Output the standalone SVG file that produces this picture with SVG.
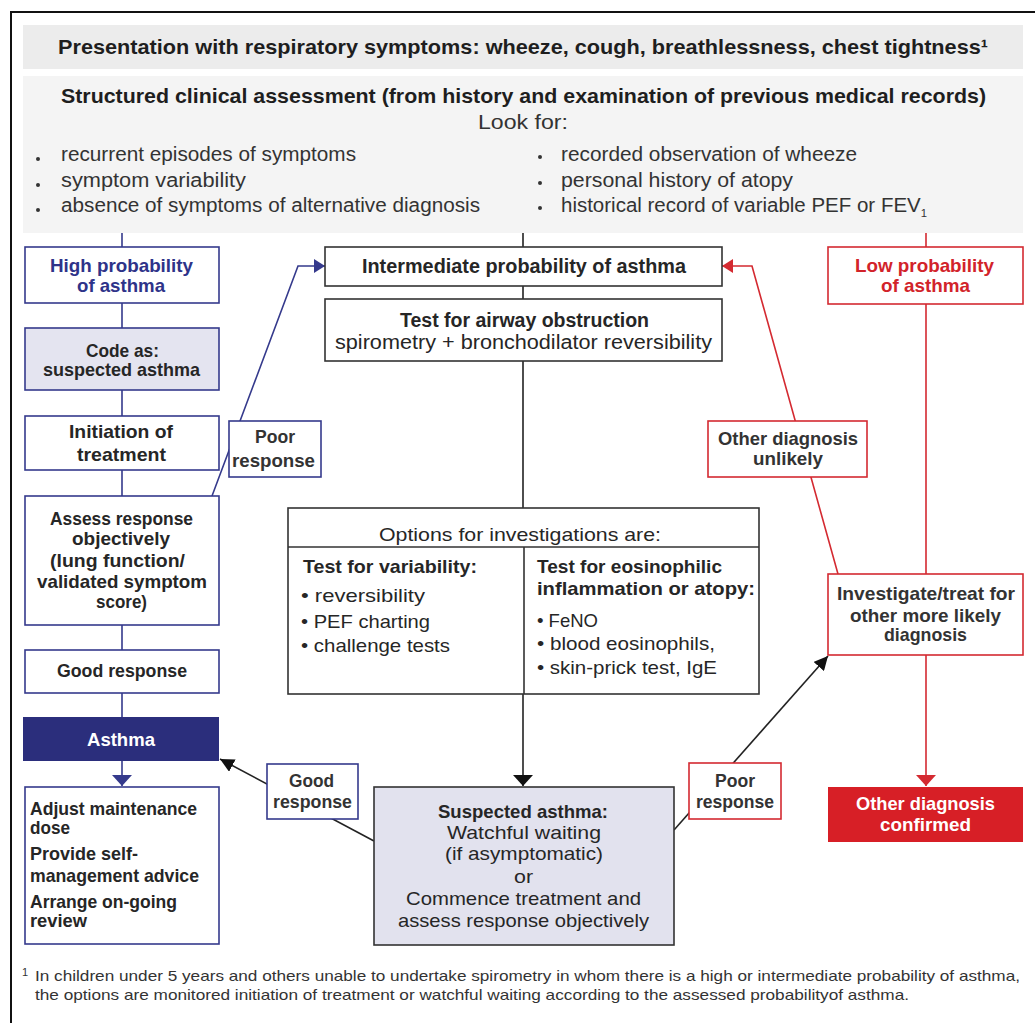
<svg xmlns="http://www.w3.org/2000/svg" width="1035" height="1023" viewBox="0 0 1035 1023">
<style>
text{font-family:"Liberation Sans",Arial,sans-serif;fill:#262626}
.h{font-size:21px;font-weight:bold;fill:#1e1e1e}
.r20{font-size:20px;fill:#333}
.b{font-size:18.5px;font-weight:bold}
.r{font-size:18.5px}
.navyT{fill:#2e3389}
.redT{fill:#d2232a}
.wT{fill:#fff}
.ft{font-size:15px;fill:#333}
.nv{fill:#fff;stroke:#353a8c;stroke-width:1.6}
.rd{fill:#fff;stroke:#d42a31;stroke-width:1.6}
.bk{fill:#fff;stroke:#333;stroke-width:1.6}
.cn{fill:none;stroke-width:1.6}
.cnN{stroke:#353a8c}
.cnR{stroke:#d42a31}
.cnK{stroke:#222}
</style>
<defs>
<marker id="mNv" viewBox="0 0 10 10" refX="10" refY="5" markerUnits="userSpaceOnUse" markerWidth="11" markerHeight="20" preserveAspectRatio="none" orient="auto"><path d="M0,0L10,5L0,10Z" fill="#353a8c"/></marker>
<marker id="mRv" viewBox="0 0 10 10" refX="10" refY="5" markerUnits="userSpaceOnUse" markerWidth="11" markerHeight="20" preserveAspectRatio="none" orient="auto"><path d="M0,0L10,5L0,10Z" fill="#d42a31"/></marker>
<marker id="mKv" viewBox="0 0 10 10" refX="10" refY="5" markerUnits="userSpaceOnUse" markerWidth="11" markerHeight="20" preserveAspectRatio="none" orient="auto"><path d="M0,0L10,5L0,10Z" fill="#111"/></marker>
<marker id="mN" viewBox="0 0 10 10" refX="10" refY="5" markerUnits="userSpaceOnUse" markerWidth="11" markerHeight="14" preserveAspectRatio="none" orient="auto"><path d="M0,0L10,5L0,10Z" fill="#353a8c"/></marker>
<marker id="mR" viewBox="0 0 10 10" refX="10" refY="5" markerUnits="userSpaceOnUse" markerWidth="11" markerHeight="14" preserveAspectRatio="none" orient="auto"><path d="M0,0L10,5L0,10Z" fill="#d42a31"/></marker>
<marker id="mK" viewBox="0 0 10 10" refX="10" refY="5" markerUnits="userSpaceOnUse" markerWidth="14" markerHeight="14" preserveAspectRatio="none" orient="auto"><path d="M0,0L10,5L0,10Z" fill="#111"/></marker>
</defs>
<rect x="0" y="0" width="1035" height="1023" fill="#fff"/>
<path d="M11,1023V12H1035" fill="none" stroke="#111" stroke-width="2"/>

<g id="header1">
<rect x="23" y="25" width="1000" height="44" fill="#ececec"/>
<text class="h" x="58" y="54" textLength="930" lengthAdjust="spacingAndGlyphs">Presentation with respiratory symptoms:  wheeze, cough, breathlessness, chest tightness¹</text>
</g>

<g id="header2">
<rect x="23" y="76" width="1000" height="157" fill="#f4f4f4"/>
<text class="h" x="61" y="103" textLength="925" lengthAdjust="spacingAndGlyphs">Structured clinical assessment (from history and examination of previous medical records)</text>
<text class="r20" style="font-size:21px" x="478" y="129" textLength="90" lengthAdjust="spacingAndGlyphs">Look for:</text>
<circle cx="38" cy="159" r="2" fill="#333"/>
<circle cx="38" cy="185" r="2" fill="#333"/>
<circle cx="38" cy="210" r="2" fill="#333"/>
<text class="r20" x="61" y="161" textLength="295" lengthAdjust="spacingAndGlyphs">recurrent episodes of symptoms</text>
<text class="r20" x="61" y="187" textLength="185" lengthAdjust="spacingAndGlyphs">symptom variability</text>
<text class="r20" x="61" y="212" textLength="419" lengthAdjust="spacingAndGlyphs">absence of symptoms of alternative diagnosis</text>
<circle cx="540" cy="157" r="2" fill="#333"/>
<circle cx="540" cy="183" r="2" fill="#333"/>
<circle cx="540" cy="208" r="2" fill="#333"/>
<text class="r20" x="561" y="161" textLength="296" lengthAdjust="spacingAndGlyphs">recorded observation of wheeze</text>
<text class="r20" x="561" y="187" textLength="232" lengthAdjust="spacingAndGlyphs">personal history of atopy</text>
<text class="r20" x="561" y="212" textLength="366" lengthAdjust="spacingAndGlyphs">historical record of variable PEF or FEV<tspan dy="5" style="font-size:11px">1</tspan></text>
</g>

<g id="connectors">
<path class="cn cnN" d="M122,233V247M122,303V328M122,390V416M122,470V496M122,625V650M122,693V717"/>
<path class="cn cnN" d="M122,761V786" marker-end="url(#mNv)"/>
<path class="cn cnK" d="M523,233V247M523,286V299M523,361V508"/>
<path class="cn cnK" d="M523,694V786" marker-end="url(#mKv)"/>
<path class="cn cnR" d="M926,233V247M926,304V574"/>
<path class="cn cnR" d="M926,655V786" marker-end="url(#mRv)"/>
<path class="cn cnN" d="M212,496L298,266H325" marker-end="url(#mN)"/>
<path class="cn cnR" d="M838,574L752,266H722" marker-end="url(#mR)"/>
<path class="cn cnK" d="M374,841L220,759" marker-end="url(#mK)"/>
<path class="cn cnK" d="M674,830L828,656" marker-end="url(#mK)"/>
</g>

<g id="high">
<rect class="nv" x="25" y="247" width="194" height="56"/>
<text class="b navyT" x="50" y="272" textLength="143" lengthAdjust="spacingAndGlyphs">High probability</text>
<text class="b navyT" x="77" y="292" textLength="88" lengthAdjust="spacingAndGlyphs">of asthma</text>
</g>
<g id="code">
<rect class="nv" style="fill:#e4e4f0" x="25" y="328" width="194" height="62"/>
<text class="b" x="86" y="357" textLength="73" lengthAdjust="spacingAndGlyphs">Code as:</text>
<text class="b" x="43" y="376" textLength="157" lengthAdjust="spacingAndGlyphs">suspected asthma</text>
</g>
<g id="initiation">
<rect class="nv" x="25" y="416" width="194" height="54"/>
<text class="b" x="69" y="438" textLength="104" lengthAdjust="spacingAndGlyphs">Initiation of</text>
<text class="b" x="77" y="461" textLength="89" lengthAdjust="spacingAndGlyphs">treatment</text>
</g>
<g id="assess">
<rect class="nv" x="25" y="496" width="194" height="129"/>
<text class="b" x="50" y="525" textLength="143" lengthAdjust="spacingAndGlyphs">Assess response</text>
<text class="b" x="72" y="545" textLength="98" lengthAdjust="spacingAndGlyphs">objectively</text>
<text class="b" x="50" y="567" textLength="135" lengthAdjust="spacingAndGlyphs">(lung function/</text>
<text class="b" x="37" y="588" textLength="170" lengthAdjust="spacingAndGlyphs">validated symptom</text>
<text class="b" x="96" y="608" textLength="51" lengthAdjust="spacingAndGlyphs">score)</text>
</g>
<g id="goodresp">
<rect class="nv" x="25" y="650" width="194" height="43"/>
<text class="b" x="57" y="677" textLength="130" lengthAdjust="spacingAndGlyphs">Good response</text>
</g>
<g id="asthma">
<rect x="23" y="717" width="196" height="44" fill="#2b2e7c"/>
<text class="b wT" x="87" y="746" textLength="68" lengthAdjust="spacingAndGlyphs">Asthma</text>
</g>
<g id="adjust">
<rect class="nv" x="25" y="787" width="194" height="157"/>
<text class="b" x="30" y="815" textLength="167" lengthAdjust="spacingAndGlyphs">Adjust maintenance</text>
<text class="b" x="30" y="834" textLength="40" lengthAdjust="spacingAndGlyphs">dose</text>
<text class="b" x="30" y="860" textLength="108" lengthAdjust="spacingAndGlyphs">Provide self-</text>
<text class="b" x="30" y="882" textLength="169" lengthAdjust="spacingAndGlyphs">management advice</text>
<text class="b" x="30" y="908" textLength="147" lengthAdjust="spacingAndGlyphs">Arrange on-going</text>
<text class="b" x="30" y="927" textLength="57" lengthAdjust="spacingAndGlyphs">review</text>
</g>
<g id="poorLeft">
<rect class="nv" x="229" y="421" width="92" height="56"/>
<text class="b" style="fill:#333" x="255" y="443" textLength="40" lengthAdjust="spacingAndGlyphs">Poor</text>
<text class="b" style="fill:#333" x="232" y="467" textLength="83" lengthAdjust="spacingAndGlyphs">response</text>
</g>

<g id="intermediate">
<rect class="bk" x="325" y="247" width="397" height="39"/>
<text class="b" style="font-size:19.5px" x="362" y="273" textLength="324" lengthAdjust="spacingAndGlyphs">Intermediate probability of asthma</text>
</g>
<g id="airway">
<rect class="bk" x="325" y="299" width="397" height="62"/>
<text class="b" style="font-size:19.5px" x="400" y="327" textLength="249" lengthAdjust="spacingAndGlyphs">Test for airway obstruction</text>
<text class="r" style="font-size:19.5px" x="335" y="349" textLength="377" lengthAdjust="spacingAndGlyphs">spirometry + bronchodilator reversibility</text>
</g>
<g id="options">
<rect class="bk" x="288" y="508" width="471" height="186"/>
<path d="M288,547H759M524,547V694" stroke="#333" stroke-width="1.6" fill="none"/>
<text class="r" x="379" y="541" textLength="282" lengthAdjust="spacingAndGlyphs">Options for investigations are:</text>
<text class="b" x="303" y="573" textLength="174" lengthAdjust="spacingAndGlyphs">Test for variability:</text>
<text class="r" x="301" y="602" textLength="124" lengthAdjust="spacingAndGlyphs">• reversibility</text>
<text class="r" x="301" y="628" textLength="129" lengthAdjust="spacingAndGlyphs">• PEF charting</text>
<text class="r" x="301" y="652" textLength="149" lengthAdjust="spacingAndGlyphs">• challenge tests</text>
<text class="b" x="537" y="573" textLength="185" lengthAdjust="spacingAndGlyphs">Test for eosinophilic</text>
<text class="b" x="537" y="595" textLength="218" lengthAdjust="spacingAndGlyphs">inflammation or atopy:</text>
<text class="r" x="537" y="627" textLength="61" lengthAdjust="spacingAndGlyphs">• FeNO</text>
<text class="r" x="537" y="650" textLength="178" lengthAdjust="spacingAndGlyphs">• blood eosinophils,</text>
<text class="r" x="537" y="674" textLength="180" lengthAdjust="spacingAndGlyphs">• skin-prick test, IgE</text>
</g>
<g id="suspected">
<rect class="bk" style="fill:#e2e2ee" x="374" y="787" width="300" height="158"/>
<text class="b" x="438" y="818" textLength="170" lengthAdjust="spacingAndGlyphs">Suspected asthma:</text>
<text class="r" x="447" y="839" textLength="154" lengthAdjust="spacingAndGlyphs">Watchful waiting</text>
<text class="r" x="445" y="860" textLength="158" lengthAdjust="spacingAndGlyphs">(if asymptomatic)</text>
<text class="r" x="514" y="883" textLength="19" lengthAdjust="spacingAndGlyphs">or</text>
<text class="r" x="406" y="905" textLength="235" lengthAdjust="spacingAndGlyphs">Commence treatment and</text>
<text class="r" x="398" y="927" textLength="251" lengthAdjust="spacingAndGlyphs">assess response objectively</text>
</g>
<g id="goodLabel">
<rect class="nv" x="267" y="764" width="91" height="55"/>
<text class="b" style="fill:#333" x="289" y="787" textLength="45" lengthAdjust="spacingAndGlyphs">Good</text>
<text class="b" style="fill:#333" x="273" y="808" textLength="79" lengthAdjust="spacingAndGlyphs">response</text>
</g>
<g id="poorRight">
<rect class="rd" x="689" y="763" width="92" height="56"/>
<text class="b" style="fill:#333" x="715" y="787" textLength="40" lengthAdjust="spacingAndGlyphs">Poor</text>
<text class="b" style="fill:#333" x="696" y="808" textLength="78" lengthAdjust="spacingAndGlyphs">response</text>
</g>

<g id="low">
<rect class="rd" x="828" y="247" width="195" height="57"/>
<text class="b redT" x="855" y="272" textLength="139" lengthAdjust="spacingAndGlyphs">Low probability</text>
<text class="b redT" x="881" y="292" textLength="89" lengthAdjust="spacingAndGlyphs">of asthma</text>
</g>
<g id="unlikely">
<rect class="rd" x="708" y="421" width="159" height="56"/>
<text class="b" style="fill:#333" x="718" y="445" textLength="140" lengthAdjust="spacingAndGlyphs">Other diagnosis</text>
<text class="b" style="fill:#333" x="753" y="465" textLength="70" lengthAdjust="spacingAndGlyphs">unlikely</text>
</g>
<g id="investigate">
<rect class="rd" x="828" y="574" width="195" height="81"/>
<text class="b" style="fill:#333" x="837" y="600" textLength="178" lengthAdjust="spacingAndGlyphs">Investigate/treat for</text>
<text class="b" style="fill:#333" x="850" y="622" textLength="151" lengthAdjust="spacingAndGlyphs">other more likely</text>
<text class="b" style="fill:#333" x="884" y="641" textLength="83" lengthAdjust="spacingAndGlyphs">diagnosis</text>
</g>
<g id="confirmed">
<rect x="828" y="787" width="195" height="55" fill="#d71f26"/>
<text class="b wT" x="856" y="810" textLength="139" lengthAdjust="spacingAndGlyphs">Other diagnosis</text>
<text class="b wT" x="880" y="831" textLength="91" lengthAdjust="spacingAndGlyphs">confirmed</text>
</g>

<g id="footnote">
<text class="ft" x="22" y="976" style="font-size:11px">1</text>
<text class="ft" x="35" y="981" textLength="985" lengthAdjust="spacingAndGlyphs">In children under 5 years and others unable to undertake spirometry in whom there is a high or intermediate probability of asthma,</text>
<text class="ft" x="35" y="1000" textLength="874" lengthAdjust="spacingAndGlyphs">the options are monitored initiation of treatment or watchful waiting according to the assessed probabilityof asthma.</text>
</g>
</svg>
